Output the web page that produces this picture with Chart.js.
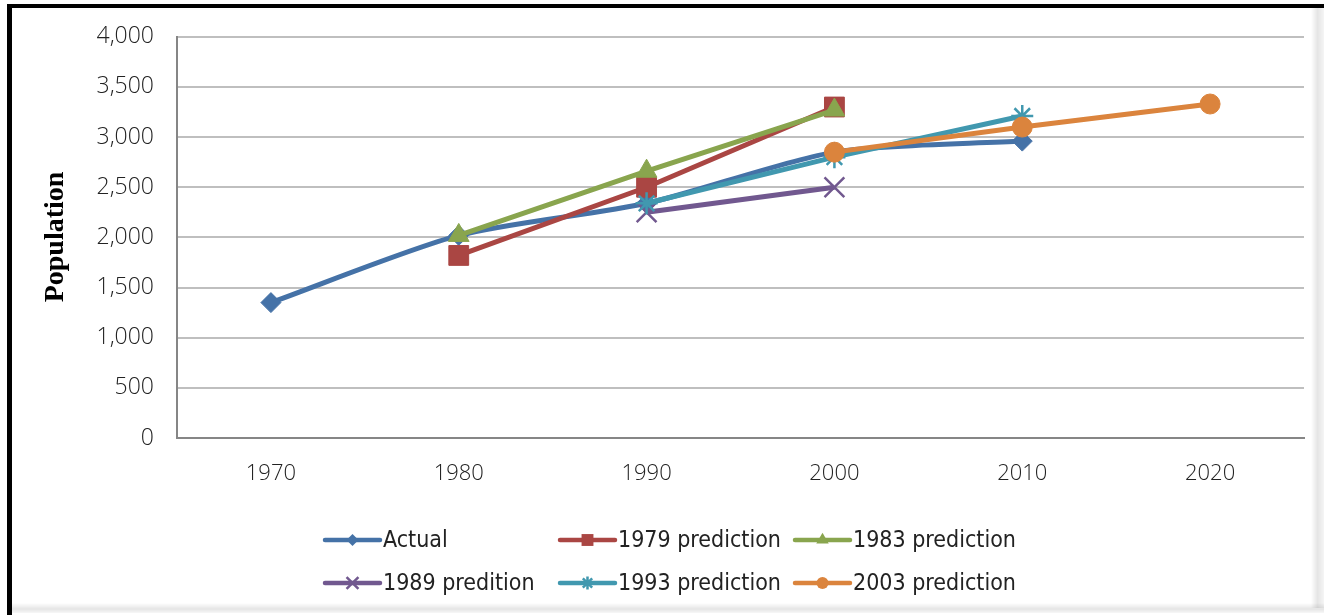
<!DOCTYPE html>
<html>
<head>
<meta charset="utf-8">
<script src="https://cdn.jsdelivr.net/npm/chart.js@4/dist/chart.umd.min.js"></script>
<style>
  html, body { margin: 0; padding: 0; background: #ffffff; }
  #wrap { position: relative; width: 1324px; height: 615px; overflow: hidden; background: #ffffff; }
  #chart { position: absolute; left: 0; top: 0; width: 1324px; height: 615px; }
  .edge { position: absolute; pointer-events: none; }
  #edgeTop { left: 7px; top: 4px; width: 1317px; height: 4px; background: #000; }
  #edgeLeft { left: 7px; top: 4px; width: 5px; height: 611px; background: #000; }
  #edgeRight { left: 1311px; top: 8px; width: 13px; height: 600px;
    background: linear-gradient(to right, rgba(0,0,0,0), rgba(0,0,0,0.10) 50%, rgba(0,0,0,0.04)); }
  #edgeBottom { left: 12px; top: 603px; width: 1312px; height: 10px;
    background: linear-gradient(to bottom, rgba(0,0,0,0), rgba(0,0,0,0.10) 60%, rgba(0,0,0,0.03)); }
</style>
</head>
<body>
<div id="wrap">
  <canvas id="chart" width="1324" height="615"></canvas>
  <div class="edge" id="edgeTop"></div>
  <div class="edge" id="edgeLeft"></div>
  <div class="edge" id="edgeRight"></div>
  <div class="edge" id="edgeBottom"></div>
</div>
<script>
// Census years on the category axis
const years = ['1970', '1980', '1990', '2000', '2010', '2020'];

// Population: counted values and the successive forecasts
const actual     = [1350, 2020, 2340, 2850, 2960, null];
const pred1979   = [null, 1820, 2500, 3300, null, null];
const pred1983   = [null, 2020, 2660, 3270, null, null];
const pred1989   = [null, null, 2250, 2500, null, null];
const pred1993   = [null, null, 2340, 2800, 3210, null];
const pred2003   = [null, null, null, 2850, 3100, 3330];

// Value axis ticks
const yTicks = [0, 500, 1000, 1500, 2000, 2500, 3000, 3500, 4000];

const seriesNames = ['Actual', '1979 prediction', '1983 prediction', '1989 predition', '1993 prediction', '2003 prediction'];

const Y_TICK_FONT = { family: "'Open Sans', 'DejaVu Sans', sans-serif", size: 23, weight: '300' };
const X_TICK_FONT = { family: "'Open Sans', 'DejaVu Sans', sans-serif", size: 22, weight: '300' };
const LEGEND_FONT = "23px 'Liberation Sans Narrow', 'DejaVu Sans Condensed', 'Liberation Sans', sans-serif";

function series(label, data, color, style, radius, order, extra) {
  return Object.assign({
    label: label,
    data: data,
    borderColor: color,
    backgroundColor: color,
    pointBackgroundColor: color,
    pointBorderColor: color,
    borderWidth: 5,
    pointStyle: style,
    pointRadius: radius,
    pointHoverRadius: radius,
    pointBorderWidth: 1,
    tension: 0,
    spanGaps: false,
    order: order
  }, extra || {});
}

const datasets = [
  series(seriesNames[0], actual,   '#4572A7', 'rectRot',  10, 6, { tension: 0.25 }),
  series(seriesNames[1], pred1979, '#AA4643', 'rect',     14, 5),
  series(seriesNames[2], pred1983, '#89A54E', 'triangle', 12, 4),
  series(seriesNames[3], pred1989, '#71588F', 'crossRot', 14, 3, { pointBorderWidth: 2.5 }),
  series(seriesNames[4], pred1993, '#4198AF', 'star',     11, 2, { pointBorderWidth: 2.5 }),
  series(seriesNames[5], pred2003, '#DB843D', 'circle',   10, 1)
];

// Marker painter for the legend samples
function paintMarker(ctx, style, r, x, y, color, bw) {
  ctx.save();
  ctx.fillStyle = color;
  ctx.strokeStyle = color;
  ctx.lineWidth = bw;
  ctx.beginPath();
  if (style === 'circle') {
    ctx.arc(x, y, r, 0, Math.PI * 2);
    ctx.fill();
  } else if (style === 'rect') {
    const s = r * Math.SQRT1_2;
    ctx.rect(x - s, y - s, 2 * s, 2 * s);
    ctx.fill();
  } else if (style === 'rectRot') {
    ctx.moveTo(x, y - r); ctx.lineTo(x + r, y); ctx.lineTo(x, y + r); ctx.lineTo(x - r, y); ctx.closePath();
    ctx.fill();
  } else if (style === 'triangle') {
    ctx.moveTo(x, y - r);
    ctx.lineTo(x + r * Math.sin(Math.PI * 2 / 3), y - r * Math.cos(Math.PI * 2 / 3));
    ctx.lineTo(x - r * Math.sin(Math.PI * 2 / 3), y - r * Math.cos(Math.PI * 2 / 3));
    ctx.closePath();
    ctx.fill();
  } else if (style === 'crossRot' || style === 'star') {
    const d = r * Math.SQRT1_2;
    ctx.moveTo(x - d, y - d); ctx.lineTo(x + d, y + d);
    ctx.moveTo(x - d, y + d); ctx.lineTo(x + d, y - d);
    if (style === 'star') { ctx.moveTo(x, y - r); ctx.lineTo(x, y + r); }
    ctx.stroke();
  }
  ctx.restore();
}

// Two-row legend: line sample with marker, then the series name
const legendPlugin = {
  id: 'lineLegend',
  afterDraw(chart) {
    const ctx = chart.ctx;
    const cols = [325, 560, 795];
    const rows = [540, 583];
    const segLen = 55;
    chart.data.datasets.forEach((ds, i) => {
      const x0 = cols[i % 3];
      const y = rows[Math.floor(i / 3)];
      ctx.save();
      ctx.strokeStyle = ds.borderColor;
      ctx.lineWidth = 4.5;
      ctx.lineCap = 'round';
      ctx.beginPath();
      ctx.moveTo(x0, y);
      ctx.lineTo(x0 + segLen, y);
      ctx.stroke();
      ctx.restore();
      const r = ds.pointRadius * 0.6;
      paintMarker(ctx, ds.pointStyle, r, x0 + segLen / 2, y, ds.borderColor, ds.pointBorderWidth);
      ctx.save();
      ctx.fillStyle = '#222';
      ctx.font = LEGEND_FONT;
      ctx.textBaseline = 'middle';
      ctx.textAlign = 'left';
      ctx.fillText(ds.label, x0 + segLen + 3, y + 1);
      ctx.restore();
    });
  }
};

// Rotated value-axis title
const axisTitlePlugin = {
  id: 'axisTitle',
  afterDraw(chart) {
    const ctx = chart.ctx;
    ctx.save();
    ctx.translate(56, 237);
    ctx.rotate(-Math.PI / 2);
    ctx.font = "bold 28px 'Liberation Serif', 'DejaVu Serif', serif";
    ctx.fillStyle = '#000';
    ctx.textAlign = 'center';
    ctx.textBaseline = 'middle';
    ctx.fillText('Population', 0, 0);
    ctx.restore();
  }
};

new Chart(document.getElementById('chart'), {
  type: 'line',
  data: { labels: years, datasets: datasets },
  options: {
    responsive: false,
    animation: false,
    events: [],
    layout: { padding: { left: 0, right: 20, top: 36, bottom: 97 } },
    plugins: {
      legend: { display: false },
      tooltip: { enabled: false },
      title: { display: false }
    },
    scales: {
      x: {
        type: 'category',
        offset: true,
        grid: { display: false, drawTicks: false },
        border: { display: true, color: '#868686', width: 2 },
        ticks: { color: '#222', font: X_TICK_FONT, padding: 23, maxRotation: 0 },
        afterFit(scale) { scale.height = 80; }
      },
      y: {
        min: 0,
        max: 4000,
        afterBuildTicks(scale) { scale.ticks = yTicks.map(v => ({ value: v })); },
        grid: { color: '#BFBFBF', lineWidth: 2, drawTicks: false },
        border: { display: true, color: '#868686', width: 2 },
        ticks: {
          color: '#222',
          font: Y_TICK_FONT,
          padding: 23,
          callback: v => v.toLocaleString('en-US')
        },
        afterFit(scale) { scale.width = 177; }
      }
    }
  },
  plugins: [legendPlugin, axisTitlePlugin]
});
</script>
</body>
</html>
